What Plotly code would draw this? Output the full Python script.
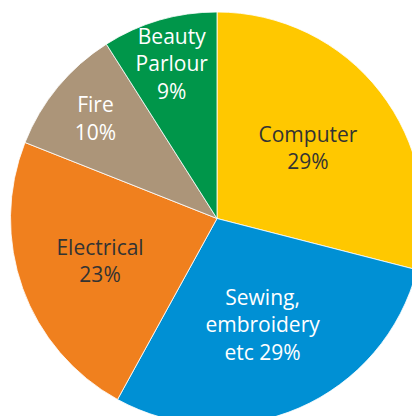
import plotly.graph_objects as go

categories = ["Computer", "Sewing, embroidery etc", "Electrical", "Fire", "Beauty Parlour"]
values = [29, 29, 23, 10, 9]
label_text = ["Computer<br>29%", "Sewing,<br>embroidery<br>etc 29%", "Electrical<br>23%", "Fire<br>10%", "Beauty<br>Parlour<br>9%"]
colors = ["#FFC800", "#0090D4", "#F0801E", "#AC9579", "#00964A"]
text_colors = ["#333333", "#FFFFFF", "#333333", "#FFFFFF", "#FFFFFF"]

W, H = 440, 440
cx, cy, R = 217, 218.5, 206.5

fig = go.Figure(go.Pie(
    labels=categories,
    values=values,
    text=label_text,
    textinfo="text",
    textposition="inside",
    insidetextorientation="horizontal",
    textfont=dict(family="Open Sans", size=21, color=text_colors),
    marker=dict(colors=colors, line=dict(color="white", width=0.8)),
    sort=False,
    direction="clockwise",
    rotation=0,
    hole=0,
    showlegend=False,
    domain=dict(x=[(cx - R) / W, (cx + R) / W], y=[1 - (cy + R) / H, 1 - (cy - R) / H]),
))

fig.update_layout(
    width=W, height=H,
    margin=dict(l=0, r=0, t=0, b=0),
    paper_bgcolor="white",
    plot_bgcolor="white",
    uniformtext=dict(minsize=21, mode="show"),
)

fig.write_html(
    "out.html",
    config={"displayModeBar": False},
    post_script="document.body.style.overflow='hidden';document.documentElement.style.overflow='hidden';document.body.style.margin='0';",
)
